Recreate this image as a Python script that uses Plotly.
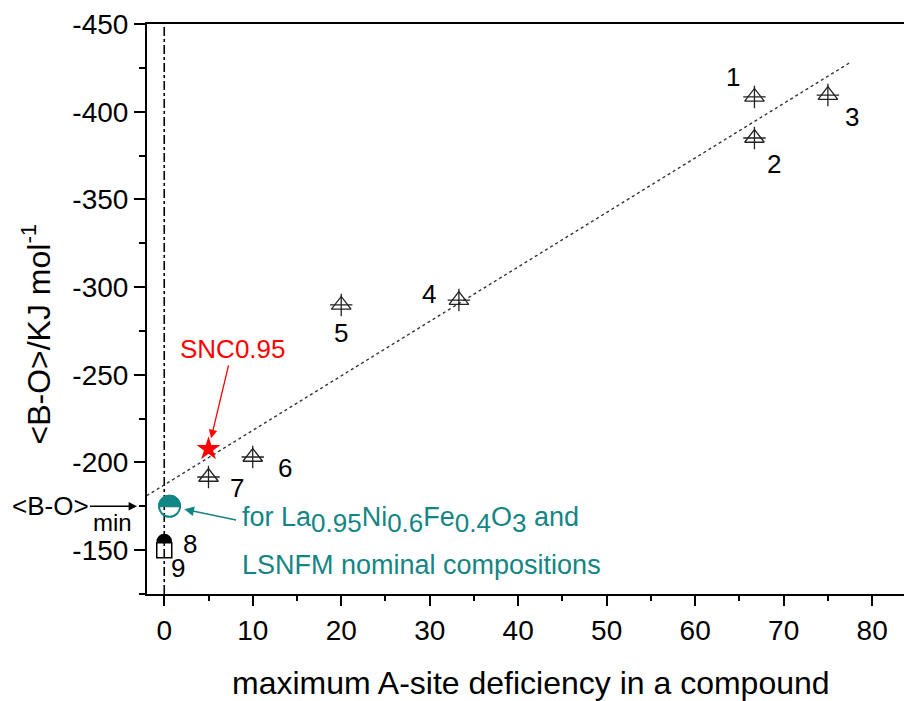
import plotly.graph_objects as go

# ---- data ----
comp_labels = ["1", "2", "3", "4", "5", "6", "7"]
comp_x = [66.7, 66.7, 75.0, 33.3, 20.0, 10.0, 5.0]
comp_y = [-408.4, -385.0, -409.5, -292.6, -289.8, -203.1, -191.7]

snc_x = [5.0]
snc_y = [-207.7]
snc_label = "SNC0.95"

lnf_x = [0.6]
lnf_y = [-175.0]

p8_x = [0.0]
p8_y = [-155.0]
p9_x = [0.0]
p9_y = [-150.0]

fit_x = [-2.0, 77.5]
fit_y = [-181.0, -428.0]

vline_x = [0.0, 0.0]
vline_y = [-125.0, -450.0]

x_ticks = [0, 10, 20, 30, 40, 50, 60, 70, 80]
x_ticktext = ["0", "10", "20", "30", "40", "50", "60", "70", "80"]
y_ticks = [-450, -400, -350, -300, -250, -200, -150]
y_ticktext = ["-450", "-400", "-350", "-300", "-250", "-200", "-150"]

# ---- styling / label offsets (pixels) ----
label_offsets = {"1": (-21, 20), "2": (20, -26), "3": (24, -22), "4": (-30, 6),
                 "5": (0, -28), "6": (32, -11), "7": (28, -11)}
FONT = "Arial, Liberation Sans, sans-serif"
TEAL = "#138585"
DARK = "#222222"

fig = go.Figure()

# vertical dash-dot line at x = 0
fig.add_trace(go.Scatter(x=vline_x, y=vline_y, mode="lines",
                         line=dict(color="black", width=1.6, dash="dashdot"),
                         hoverinfo="skip", showlegend=False))
# dotted linear trend
fig.add_trace(go.Scatter(x=fit_x, y=fit_y, mode="lines",
                         line=dict(color="#333333", width=1.4, dash="dot"),
                         hoverinfo="skip", showlegend=False))
# compounds: open triangle + cross
fig.add_trace(go.Scatter(x=comp_x, y=comp_y, mode="markers",
                         marker=dict(symbol="triangle-up-open", size=17,
                                     color=DARK, line=dict(width=1.3, color=DARK)),
                         showlegend=False))
fig.add_trace(go.Scatter(x=comp_x, y=comp_y, mode="markers",
                         marker=dict(symbol="cross-thin-open", size=16, color=DARK,
                                     line=dict(width=1.3, color=DARK)),
                         showlegend=False))
# SNC0.95 star
fig.add_trace(go.Scatter(x=snc_x, y=snc_y, mode="markers",
                         marker=dict(symbol="star", size=18, color="red",
                                     line=dict(width=0)),
                         showlegend=False))
# point 9: open square
fig.add_trace(go.Scatter(x=p9_x, y=p9_y, mode="markers",
                         marker=dict(symbol="square-open", size=15, color="black",
                                     line=dict(width=1.5, color="black")),
                         showlegend=False))


def half_circle_paths(r):
    k = 0.5523 * r
    full = (f"M {-r},0 C {-r},{k} {-k},{r} 0,{r} C {k},{r} {r},{k} {r},0 "
            f"C {r},{-k} {k},{-r} 0,{-r} C {-k},{-r} {-r},{-k} {-r},0 Z")
    top = f"M {-r},0 C {-r},{k} {-k},{r} 0,{r} C {k},{r} {r},{k} {r},0 Z"
    return full, top


full_t, top_t = half_circle_paths(10.5)
fig.add_shape(type="path", path=full_t, xref="x", yref="y",
              xsizemode="pixel", ysizemode="pixel",
              xanchor=lnf_x[0], yanchor=lnf_y[0],
              line=dict(color=TEAL, width=2), fillcolor="rgba(0,0,0,0)")
fig.add_shape(type="path", path=top_t, xref="x", yref="y",
              xsizemode="pixel", ysizemode="pixel",
              xanchor=lnf_x[0], yanchor=lnf_y[0],
              line=dict(color=TEAL, width=2), fillcolor=TEAL)

_, top_8 = half_circle_paths(7)
fig.add_shape(type="path", path=top_8, xref="x", yref="y",
              xsizemode="pixel", ysizemode="pixel",
              xanchor=p8_x[0], yanchor=p8_y[0],
              line=dict(color="black", width=1.5), fillcolor="black")

# number labels
for lab, x, y in zip(comp_labels, comp_x, comp_y):
    dx, dy = label_offsets[lab]
    fig.add_annotation(x=x, y=y, text=lab, showarrow=False, xshift=dx, yshift=dy,
                       font=dict(size=26, color="black", family=FONT))
fig.add_annotation(x=p8_x[0], y=p8_y[0], text="8", showarrow=False, xshift=26, yshift=-3,
                   font=dict(size=26, color="black", family=FONT))
fig.add_annotation(x=p9_x[0], y=p9_y[0], text="9", showarrow=False, xshift=14, yshift=-18,
                   font=dict(size=26, color="black", family=FONT))

# SNC0.95 label with arrow
fig.add_annotation(x=snc_x[0], y=snc_y[0], text=snc_label, showarrow=True,
                   ax=24, ay=-100, standoff=11, arrowhead=2, arrowsize=1.3,
                   arrowwidth=1.3, arrowcolor="red",
                   font=dict(size=26, color="red", family=FONT))

# teal annotation
fig.add_annotation(x=lnf_x[0], y=lnf_y[0], text="", showarrow=True, ax=68, ay=14,
                   standoff=15, arrowhead=2, arrowsize=1.3, arrowwidth=1.5,
                   arrowcolor=TEAL)
SUB = '<sub><span style="font-size:26px">{}</span></sub>'
line1 = ("for La" + SUB.format("0.95") + "Ni" + SUB.format("0.6") + "Fe"
         + SUB.format("0.4") + "O" + SUB.format("3") + " and")
fig.add_annotation(x=lnf_x[0], y=lnf_y[0], xanchor="left", yanchor="middle",
                   text=line1, showarrow=False, xshift=70, yshift=-14,
                   font=dict(size=27, color=TEAL, family=FONT))
fig.add_annotation(x=lnf_x[0], y=lnf_y[0], xanchor="left", yanchor="middle",
                   text="LSNFM nominal compositions",
                   showarrow=False, xshift=70, yshift=-59,
                   font=dict(size=27, color=TEAL, family=FONT))

# <B-O>min marker on the left
fig.add_annotation(xref="paper", x=-0.0132, y=lnf_y[0], text="&lt;B-O&gt;",
                   showarrow=True, ax=-87, ay=0, arrowhead=2, arrowsize=1.2,
                   arrowwidth=1.4, arrowcolor="black",
                   font=dict(size=26, color="black", family=FONT))
fig.add_annotation(xref="paper", x=-0.045, xanchor="center", y=lnf_y[0], text="min",
                   showarrow=False, yshift=-16,
                   font=dict(size=24, color="black", family=FONT))

# axis titles
fig.add_annotation(xref="paper", yref="paper", x=-0.146, y=0.456, textangle=-90,
                   xanchor="center", yanchor="middle",
                   text="&lt;B-O&gt;/KJ mol<sup>-1</sup>", showarrow=False,
                   font=dict(size=32, color="black", family=FONT))
fig.add_annotation(xref="paper", yref="paper", x=0.5, xshift=5, y=-0.156,
                   xanchor="center", yanchor="middle",
                   text="maximum A-site deficiency in a compound", showarrow=False,
                   font=dict(size=32, color="black", family=FONT))

fig.update_layout(
    width=904, height=701,
    margin=dict(l=147, r=0, t=24, b=107),
    paper_bgcolor="white", plot_bgcolor="white",
    showlegend=False,
    xaxis=dict(range=[-1.95, 83.6], tickvals=x_ticks, ticktext=x_ticktext,
               ticks="outside", ticklen=10,
               tickwidth=2, tickcolor="black", showline=True, linewidth=2,
               linecolor="black", mirror=True, showgrid=False, zeroline=False,
               tickfont=dict(size=28, family=FONT, color="black"),
               minor=dict(dtick=5, tick0=0, ticks="outside", ticklen=5,
                          tickwidth=2, tickcolor="black")),
    yaxis=dict(range=[-125, -450], tickvals=y_ticks, ticktext=y_ticktext,
               ticks="outside", ticklen=11,
               tickwidth=2, tickcolor="black", showline=True, linewidth=2,
               linecolor="black", showgrid=False, zeroline=False,
               tickfont=dict(size=28, family=FONT, color="black"),
               minor=dict(dtick=25, tick0=0, ticks="outside", ticklen=6,
                          tickwidth=2, tickcolor="black")),
)

fig.write_html("out.html")
